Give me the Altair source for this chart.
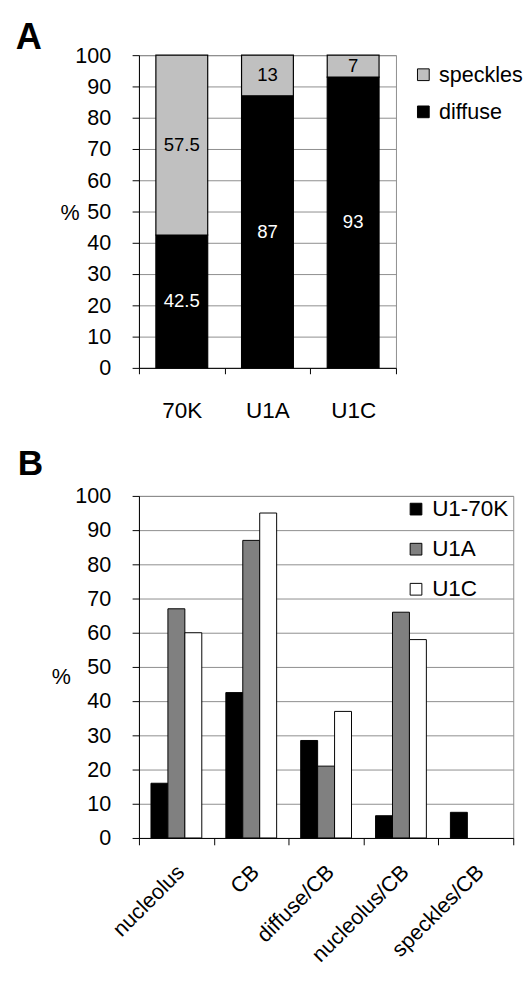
import altair as alt
import pandas as pd

FONT = "Liberation Sans"

# ---------- Panel A data ----------
a_categories = ["70K", "U1A", "U1C"]
a_diffuse = [42.5, 87, 93]
a_speckles = [57.5, 13, 7]
a_series = ["speckles", "diffuse"]
a_colors = ["#c0c0c0", "#000000"]

# ---------- Panel B data ----------
b_categories = ["nucleolus", "CB", "diffuse/CB", "nucleolus/CB", "speckles/CB"]
b_series = ["U1-70K", "U1A", "U1C"]
b_u170k = [16, 42.5, 28.5, 6.5, 7.5]
b_u1a = [67, 87, 21, 66, 0]
b_u1c = [60, 95, 37, 58, 0]
b_colors = ["#000000", "#808080", "#ffffff"]

y_ticks = list(range(0, 101, 10))

rows_a = []
for c, d, s in zip(a_categories, a_diffuse, a_speckles):
    rows_a.append({"cat": c, "seg": "diffuse", "value": d, "ord": 0})
    rows_a.append({"cat": c, "seg": "speckles", "value": s, "ord": 1})
dfA = pd.DataFrame(rows_a)

rows_b = []
for i, c in enumerate(b_categories):
    for sname, vals in zip(b_series, [b_u170k, b_u1a, b_u1c]):
        rows_b.append({"cat": c, "series": sname, "value": vals[i]})
dfB = pd.DataFrame(rows_b)

# ---------- Panel A ----------
baseA = alt.Chart(dfA)
scaleXA = alt.Scale(paddingInner=0, paddingOuter=0)
scaleYA = alt.Scale(domain=[0, 100], nice=False)
axisXA = alt.Axis(title=None, labelAngle=0, tickBand="extent", tickSize=6,
                  labelPadding=27, labelFontSize=23, grid=False)
axisYA = alt.Axis(values=y_ticks, title="%", titleAngle=0,
                  titleX=-71, titleY=161, titleAlign="center",
                  titleBaseline="middle", tickSize=7, labelPadding=22,
                  grid=True)
barsA = baseA.mark_bar(stroke="black", strokeWidth=1.2,
                       width=alt.RelativeBandSize(0.605)).encode(
    x=alt.X("cat:N", sort=a_categories, scale=scaleXA, axis=axisXA),
    y=alt.Y("value:Q", stack="zero", scale=scaleYA, axis=axisYA),
    color=alt.Color("seg:N", scale=alt.Scale(domain=a_series, range=a_colors),
                    legend=alt.Legend(title=None, orient="none", legendX=280,
                                      legendY=9, symbolType="square",
                                      symbolSize=144, symbolStrokeColor="black",
                                      symbolStrokeWidth=1, labelFontSize=22,
                                      labelFont=FONT, labelOffset=5,
                                      rowPadding=16, padding=0,
                                      labelColor="black")),
    order=alt.Order("ord:Q"),
)
textA = baseA.transform_stack(
    stack="value", groupby=["cat"], sort=[alt.SortField("ord")], as_=["v0", "v1"]
).transform_calculate(mid="(datum.v0 + datum.v1) / 2").mark_text(
    font=FONT, fontSize=19
).encode(
    x=alt.X("cat:N", sort=a_categories, scale=scaleXA, axis=axisXA),
    y=alt.Y("mid:Q", scale=scaleYA, axis=axisYA),
    text=alt.Text("value:Q"),
    color=alt.condition("datum.seg == 'diffuse'", alt.value("white"), alt.value("black")),
)
letterA = alt.Chart(pd.DataFrame({"t": ["A"]})).mark_text(
    font=FONT, fontSize=37, fontWeight="bold", align="left", baseline="top",
    color="black"
).encode(x=alt.value(-126), y=alt.value(-35), text="t:N")

panelA = alt.layer(barsA, textA, letterA).properties(width=263, height=320)

# ---------- Panel B ----------
baseB = alt.Chart(dfB)
barsB = baseB.transform_filter("datum.value > 0").mark_bar(
    stroke="black", strokeWidth=1
).encode(
    x=alt.X("cat:N", sort=b_categories,
            scale=alt.Scale(domain=b_categories, paddingInner=0, paddingOuter=0),
            axis=alt.Axis(title=None, labelAngle=-45, labelAlign="right",
                          labelBaseline="middle", tickBand="extent", tickSize=7,
                          labelPadding=24, labelOffset=4, grid=False)),
    xOffset=alt.XOffset("series:N", sort=b_series,
                        scale=alt.Scale(domain=b_series, paddingInner=0,
                                        paddingOuter=0.71)),
    y=alt.Y("value:Q", scale=alt.Scale(domain=[0, 100], nice=False),
            axis=alt.Axis(values=y_ticks, title="%", titleAngle=0,
                          titleX=-80, titleY=185, titleAlign="center",
                          titleBaseline="middle", tickSize=7, labelPadding=22,
                          grid=True)),
    color=alt.Color("series:N", scale=alt.Scale(domain=b_series, range=b_colors),
                    legend=alt.Legend(title=None, orient="none", legendX=272,
                                      legendY=2, symbolType="square",
                                      symbolSize=144, symbolStrokeColor="black",
                                      symbolStrokeWidth=1, labelFontSize=23,
                                      labelFont=FONT, labelOffset=5,
                                      rowPadding=17, padding=0,
                                      labelColor="black")),
)
letterB = alt.Chart(pd.DataFrame({"t": ["B"]})).mark_text(
    font=FONT, fontSize=36, fontWeight="bold", align="left", baseline="alphabetic",
    color="black"
).encode(x=alt.value(-124), y=alt.value(-21), text="t:N")

panelB = alt.layer(barsB, letterB).properties(width=383, height=350)

chart = alt.vconcat(panelA, panelB, spacing=23).resolve_scale(
    color="independent"
).resolve_legend(color="independent").properties(
    padding={"left": 7, "top": 0, "right": 0, "bottom": 0}
).configure_axis(
    labelFont=FONT, titleFont=FONT, labelFontSize=22, titleFontSize=22,
    labelColor="black", titleColor="black", gridColor="#8c8c8c",
    domainColor="black", tickColor="black", titleFontWeight="normal",
).configure_view(stroke="#8c8c8c", strokeWidth=1).configure_legend(
    labelFont=FONT
)

chart.save("out.html", embed_options={"renderer": "svg", "actions": False})
